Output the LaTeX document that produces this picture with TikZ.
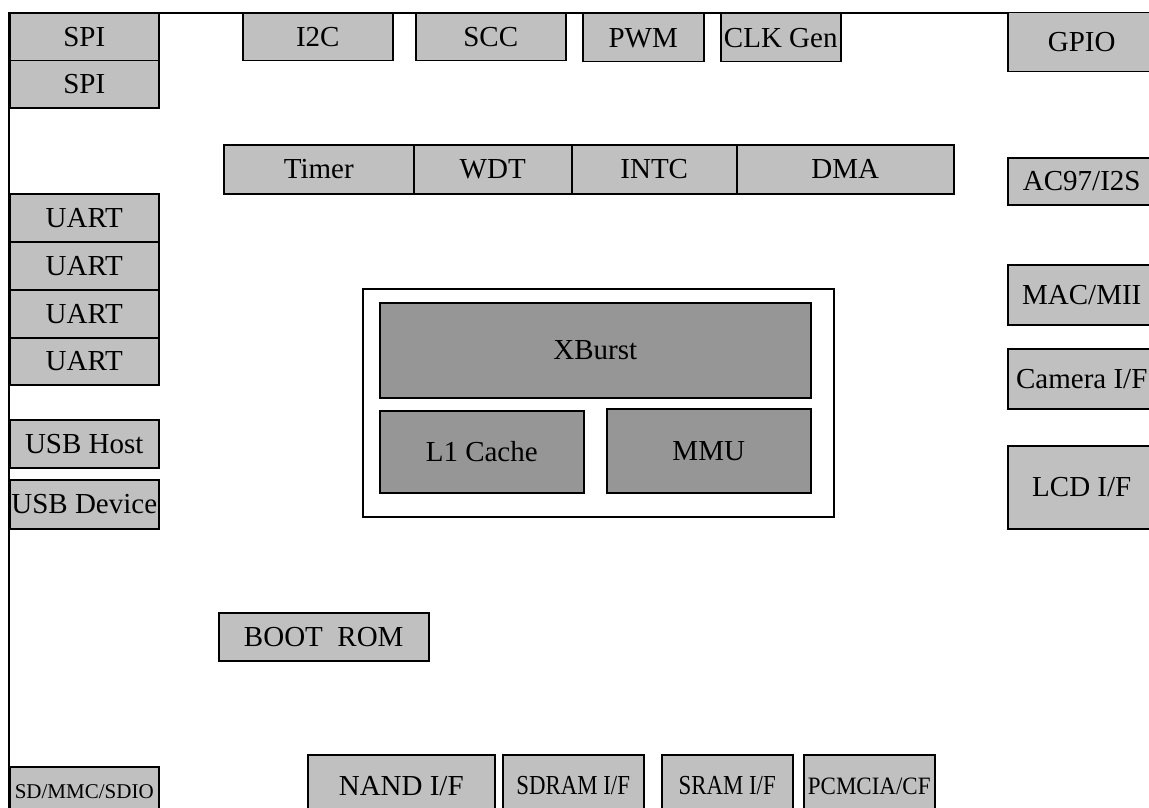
\documentclass[tikz,border=0pt]{standalone}
\usepackage{fontspec}
\setmainfont{Liberation Serif}
\definecolor{lgray}{RGB}{192,192,192}
\definecolor{dgray}{RGB}{150,150,150}
\begin{document}
\begin{tikzpicture}[x=1pt, y=-1pt, line width=1.5pt,
	blk/.style={draw, fill=lgray, inner sep=0pt, anchor=north west, text depth=0pt, font=\fontsize{29}{34}\selectfont, text height=19pt},
	core/.style={blk, fill=dgray},
	narrow/.style={font=\fontsize{27.5}{32}\selectfont\addfontfeature{FakeStretch=0.83}, text height=18pt},
	small/.style={font=\fontsize{25}{29}\selectfont\addfontfeature{FakeStretch=0.92}, text height=16.5pt},
	tiny/.style={font=\fontsize{21}{25}\selectfont, text height=14pt},
	sz/.style 2 args={minimum width=#1pt, minimum height=#2pt}]
	\useasboundingbox (0,0) rectangle (1149,808);
	% bus lines
	\coordinate (corner) at (9,13);
	\coordinate (topend) at (1155,13);
	\coordinate (botend) at (9,815);
	\draw (topend) -- (corner) -- (botend);
	
	% top row
	\node[blk, sz={149}{47}] (spia) at (9,13) {SPI};
	\node[blk, sz={149}{47}] (spib) at (9,60) {SPI};
	\node[blk, sz={150}{47}] (itc) at (242,13) {I2C};
	\node[blk, sz={150}{47}] (scc) at (415,13) {SCC};
	\node[blk, sz={121}{48}] (pwm) at (582,13) {PWM};
	\node[blk, sz={120}{48}] (clk) at (720,13) {CLK Gen};
	\node[blk, sz={148}{59}] (gpio) at (1007,12) {GPIO};
	
	% timer row
	\node[blk, sz={190}{49}] (tmr) at (223,144) {Timer};
	\node[blk, sz={158}{49}] (wdt) at (413,144) {WDT};
	\node[blk, sz={165}{49}] (intc) at (571,144) {INTC};
	\node[blk, sz={217}{49}] (dma) at (736,144) {DMA};
	\node[blk, sz={148}{47}] (ac) at (1007,157) {AC97/I2S};
	
	% left column
	\node[blk, sz={149}{48}] (uarta) at (9,193) {UART};
	\node[blk, sz={149}{48}] (uartb) at (9,241) {UART};
	\node[blk, sz={149}{48}] (uartc) at (9,289) {UART};
	\node[blk, sz={149}{47}] (uartd) at (9,337) {UART};
	\node[blk, sz={149}{48}] (usbh) at (9,419) {USB Host};
	\node[blk, sz={149}{49}] (usbd) at (9,479) {USB Device};
	\node[blk, sz={149}{50}, tiny] (sd) at (9,766) {SD/MMC/SDIO};
	
	% right column
	\node[blk, sz={148}{60}] (mac) at (1007,264) {MAC/MII};
	\node[blk, sz={148}{60}] (cam) at (1007,348) {Camera I/F};
	\node[blk, sz={148}{83}] (lcd) at (1007,445) {LCD I/F};
	
	% core
	\node[draw, fill=white, inner sep=0pt, anchor=north west, sz={471}{228}] (cpu) at (362,288) {};
	\node[core, sz={431}{95}] (xb) at (379,302) {XBurst};
	\node[core, sz={204}{82}] (lone) at (379,410) {L1 Cache};
	\node[core, sz={204}{84}] (mmu) at (606,408) {MMU};
	
	\node[blk, sz={210}{48}] (boot) at (218,612) {BOOT\ \ ROM};
	
	% bottom row
	\node[blk, sz={187}{62}] (nand) at (307,754) {NAND I/F};
	\node[blk, sz={141}{62}, narrow] (sdram) at (502,754) {SDRAM I/F};
	\node[blk, sz={131}{62}, narrow] (sram) at (661,754) {SRAM I/F};
	\node[blk, sz={131}{62}, small] (pcm) at (803,754) {PCMCIA/CF};
\end{tikzpicture}
\end{document}
